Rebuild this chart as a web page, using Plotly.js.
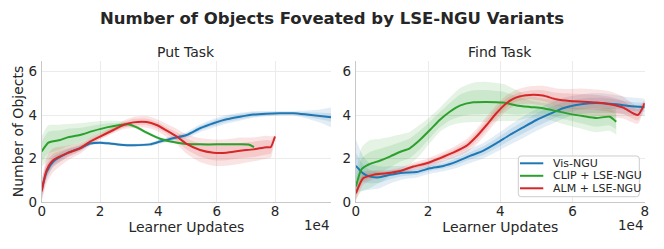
<!DOCTYPE html>
<html><head><meta charset="utf-8">
<script src="https://cdn.plot.ly/plotly-3.0.1.min.js"></script>
<style>html,body{margin:0;padding:0;background:#fff}#chart{width:664px;height:249px}</style>
</head><body><div id="chart"></div>
<script>
// x values in units of 1e4 learner updates
const seriesNames = ['Vis-NGU', 'CLIP + LSE-NGU', 'ALM + LSE-NGU'];
const xTickVals = [0, 2, 4, 6, 8];
const yTickVals = [0, 2, 4, 6];

// Put Task
const putVisX = [0,0.17,0.4,0.86,1.31,1.66,2.0,2.34,2.8,3.14,3.71,4.06,4.5,4.97,5.43,5.89,6.34,6.8,7.26,7.71,8.17,8.63,9.09,9.54,9.92];
const putVisY = [0.6,1.4,1.87,2.25,2.48,2.7,2.74,2.7,2.63,2.62,2.66,2.79,2.94,3.09,3.4,3.63,3.81,3.93,4.03,4.07,4.09,4.09,4.03,3.96,3.9];
const putVisInner = [0.3,0.2,0.15,0.1,0.08,0.06,0.05,0.05,0.05,0.05,0.05,0.06,0.07,0.08,0.1,0.12,0.12,0.12,0.1,0.08,0.06,0.06,0.1,0.15,0.2];
const putVisOuter = [0.5,0.35,0.25,0.18,0.12,0.08,0.07,0.07,0.07,0.07,0.08,0.1,0.12,0.14,0.18,0.2,0.2,0.18,0.15,0.12,0.1,0.1,0.18,0.3,0.45];

const putClipX = [0,0.23,0.63,0.86,1.31,1.77,2.23,2.69,2.97,3.26,3.6,4.06,4.51,4.97,5.43,6.0,6.57,7.09,7.28];
const putClipY = [2.33,2.74,2.86,2.97,3.09,3.28,3.44,3.55,3.58,3.44,3.2,2.92,2.77,2.68,2.66,2.66,2.66,2.65,2.53];
const putClipInner = [0.45,0.5,0.45,0.4,0.33,0.25,0.18,0.1,0.06,0.05,0.05,0.04,0.04,0.03,0.03,0.03,0.03,0.03,0.03];
const putClipOuter = [0.7,0.8,0.7,0.62,0.54,0.42,0.3,0.18,0.1,0.08,0.07,0.06,0.05,0.05,0.04,0.04,0.04,0.04,0.04];

const putAlmX = [0,0.17,0.4,0.86,1.31,1.66,2.0,2.46,2.8,3.14,3.6,3.94,4.29,4.63,4.97,5.43,5.89,6.34,6.8,7.26,7.71,7.85,8.0];
const putAlmY = [0.5,1.48,1.94,2.25,2.48,2.79,3.02,3.32,3.55,3.67,3.69,3.55,3.29,3.02,2.68,2.4,2.28,2.28,2.37,2.43,2.53,2.53,3.02];
const putAlmInner = [0.3,0.35,0.3,0.2,0.15,0.12,0.1,0.1,0.12,0.15,0.15,0.15,0.15,0.2,0.25,0.3,0.35,0.35,0.35,0.35,0.33,0.3,0.05];
const putAlmOuter = [0.45,0.6,0.55,0.35,0.25,0.2,0.15,0.15,0.2,0.25,0.27,0.27,0.3,0.35,0.45,0.55,0.6,0.6,0.6,0.55,0.53,0.5,0.05];

// Find Task
const findVisX = [0,0.2,0.39,0.66,0.94,1.31,1.68,2.05,2.42,2.79,3.16,3.52,3.89,4.26,4.63,5.0,5.37,5.74,6.1,6.48,6.85,7.21,7.58,8.0];
const findVisY = [1.67,1.33,1.18,1.15,1.26,1.36,1.39,1.56,1.67,1.87,2.13,2.36,2.71,3.09,3.44,3.78,4.06,4.32,4.47,4.55,4.55,4.5,4.42,4.36];
const findVisInner = [0.6,0.4,0.3,0.25,0.2,0.15,0.12,0.12,0.12,0.15,0.17,0.2,0.22,0.25,0.28,0.3,0.3,0.28,0.25,0.25,0.25,0.22,0.2,0.2];
const findVisOuter = [1.2,0.8,0.6,0.5,0.4,0.3,0.25,0.25,0.25,0.3,0.33,0.35,0.4,0.45,0.5,0.5,0.5,0.48,0.45,0.45,0.45,0.42,0.4,0.4];

const findClipX = [0,0.16,0.39,0.66,0.94,1.22,1.49,1.77,2.05,2.32,2.6,2.88,3.25,3.62,4.08,4.45,4.82,5.18,5.55,5.92,6.29,6.66,7.03,7.21];
const findClipY = [0.72,1.52,1.76,1.91,2.1,2.31,2.48,2.86,3.32,3.78,4.16,4.44,4.59,4.61,4.58,4.45,4.38,4.32,4.19,4.06,3.96,3.87,3.93,3.7];
const findClipInner = [0.3,0.5,0.55,0.55,0.5,0.45,0.45,0.42,0.38,0.35,0.4,0.5,0.55,0.55,0.5,0.42,0.3,0.25,0.28,0.3,0.35,0.4,0.4,0.35];
const findClipOuter = [0.6,1.0,1.1,1.0,0.9,0.8,0.75,0.7,0.6,0.55,0.65,0.8,0.9,0.92,0.85,0.7,0.5,0.45,0.5,0.55,0.6,0.65,0.65,0.6];

const findAlmX = [0,0.2,0.48,0.85,1.22,1.59,1.96,2.32,2.69,3.06,3.34,3.62,3.89,4.17,4.45,4.82,5.18,5.55,5.92,6.29,6.66,7.03,7.4,7.81,8.0];
const findAlmY = [0.41,1.1,1.26,1.33,1.44,1.64,1.79,2.02,2.28,2.59,3.02,3.55,4.09,4.55,4.82,4.93,4.9,4.73,4.65,4.62,4.58,4.5,4.35,4.01,4.55];
const findAlmInner = [0.2,0.15,0.1,0.08,0.08,0.1,0.1,0.12,0.15,0.17,0.2,0.22,0.22,0.2,0.18,0.2,0.25,0.3,0.35,0.35,0.35,0.35,0.3,0.25,0.1];
const findAlmOuter = [0.35,0.3,0.2,0.15,0.15,0.18,0.2,0.22,0.25,0.3,0.35,0.38,0.38,0.35,0.35,0.4,0.45,0.5,0.55,0.6,0.6,0.6,0.5,0.4,0.15];

const colors = ['#1f77b4', '#2ca02c', '#d62728'];
const fills = ['rgba(31,119,180,0.13)', 'rgba(44,160,44,0.13)', 'rgba(214,39,40,0.13)'];

const panels = [
  {xa: 'x', ya: 'y', series: [
    [putVisX, putVisY, putVisInner, putVisOuter],
    [putClipX, putClipY, putClipInner, putClipOuter],
    [putAlmX, putAlmY, putAlmInner, putAlmOuter]]},
  {xa: 'x2', ya: 'y2', series: [
    [findVisX, findVisY, findVisInner, findVisOuter],
    [findClipX, findClipY, findClipInner, findClipOuter],
    [findAlmX, findAlmY, findAlmInner, findAlmOuter]]}
];

const traces = [];
const lineTraces = [];
panels.forEach(p => {
  p.series.forEach((s, i) => {
    const [x, y, inner, outer] = s;
    [outer, inner].forEach(w => {
      traces.push({x: x, y: y.map((v, k) => v + w[k]), xaxis: p.xa, yaxis: p.ya, mode: 'lines',
        line: {width: 0, shape: 'spline', smoothing: 0.6}, hoverinfo: 'skip', showlegend: false});
      traces.push({x: x, y: y.map((v, k) => v - w[k]), xaxis: p.xa, yaxis: p.ya, mode: 'lines',
        line: {width: 0, shape: 'spline', smoothing: 0.6}, fill: 'tonexty', fillcolor: fills[i],
        hoverinfo: 'skip', showlegend: false});
    });
    lineTraces.push({x: x, y: y, xaxis: p.xa, yaxis: p.ya, mode: 'lines', name: seriesNames[i],
      line: {color: colors[i], width: 2, shape: 'spline', smoothing: 0.6}, showlegend: false});
  });
});

const font = {family: 'DejaVu Sans', color: '#262626', size: 13};
const axisCommon = {showgrid: true, gridcolor: '#ebebeb', gridwidth: 1, zeroline: false,
  showline: true, linecolor: '#c8c8c8', linewidth: 1, ticks: '', tickfont: {size: 13.5}, mirror: false};
const xAxisCommon = Object.assign({}, axisCommon, {ticklabelstandoff: -3});
const yAxisCommon = Object.assign({}, axisCommon, {ticklabelstandoff: 1});

// custom legend (matplotlib style) in paper coordinates
const lgX0 = 0.7806, lgX1 = 0.9628, lgY0 = 0.2100, lgY1 = 0.3735, rx = 0.0045, ry = 0.012;
const lgPath = `M ${lgX0 + rx} ${lgY1} L ${lgX1 - rx} ${lgY1} Q ${lgX1} ${lgY1} ${lgX1} ${lgY1 - ry} ` +
  `L ${lgX1} ${lgY0 + ry} Q ${lgX1} ${lgY0} ${lgX1 - rx} ${lgY0} L ${lgX0 + rx} ${lgY0} ` +
  `Q ${lgX0} ${lgY0} ${lgX0} ${lgY0 + ry} L ${lgX0} ${lgY1 - ry} Q ${lgX0} ${lgY1} ${lgX0 + rx} ${lgY1} Z`;
const lgRows = [0.3442, 0.2940, 0.2438];
const shapes = [{type: 'path', xref: 'paper', yref: 'paper', path: lgPath, fillcolor: 'rgba(255,255,255,0.85)',
  line: {color: '#cccccc', width: 1}, layer: 'above'}];
const legendAnn = [];
seriesNames.forEach((n, i) => {
  shapes.push({type: 'line', xref: 'paper', yref: 'paper', x0: 0.7831, x1: 0.8182, y0: lgRows[i], y1: lgRows[i],
    line: {color: colors[i], width: 2}, layer: 'above'});
  legendAnn.push({text: n, xref: 'paper', yref: 'paper', x: 0.8294, y: lgRows[i], xanchor: 'left', yanchor: 'middle',
    showarrow: false, font: {size: 11}});
});

const layout = {
  width: 664, height: 249, margin: {l: 0, r: 0, t: 0, b: 0},
  paper_bgcolor: '#ffffff', plot_bgcolor: '#ffffff', font: font, showlegend: false,
  title: {text: '<b>Number of Objects Foveated by LSE-NGU Variants</b>', font: {size: 16.5, family: 'DejaVu Sans', color: '#262626'},
    x: 0.5, xanchor: 'center', y: 0.926, yanchor: 'middle'},
  xaxis: Object.assign({}, xAxisCommon, {domain: [0.0628, 0.4985], range: [0, 9.92], tickvals: xTickVals,
    title: {text: 'Learner Updates', font: {size: 14}, standoff: 2}}),
  yaxis: Object.assign({}, yAxisCommon, {domain: [0.1876, 0.756], range: [0, 6.5], tickvals: yTickVals,
    title: {text: 'Number of Objects', font: {size: 14}, standoff: 1}}),
  xaxis2: Object.assign({}, xAxisCommon, {domain: [0.536, 0.971], range: [0, 8], tickvals: xTickVals, anchor: 'y2',
    title: {text: 'Learner Updates', font: {size: 14}, standoff: 2}}),
  yaxis2: Object.assign({}, yAxisCommon, {domain: [0.1876, 0.756], range: [0, 6.5], tickvals: yTickVals, anchor: 'x2'}),
  shapes: shapes,
  annotations: [
    {text: 'Put Task', xref: 'paper', yref: 'paper', x: 0.2806, y: 0.793, xanchor: 'center', yanchor: 'middle', showarrow: false, font: {size: 14}},
    {text: 'Find Task', xref: 'paper', yref: 'paper', x: 0.7535, y: 0.793, xanchor: 'center', yanchor: 'middle', showarrow: false, font: {size: 14}},
    {text: '1e4', xref: 'paper', yref: 'paper', x: 0.4985, y: 0.0964, xanchor: 'right', yanchor: 'middle', showarrow: false, font: {size: 13.5}},
    {text: '1e4', xref: 'paper', yref: 'paper', x: 0.971, y: 0.0964, xanchor: 'right', yanchor: 'middle', showarrow: false, font: {size: 13.5}}
  ].concat(legendAnn)
};

Plotly.newPlot('chart', traces.concat(lineTraces), layout, {displayModeBar: false, staticPlot: true});
</script></body></html>
